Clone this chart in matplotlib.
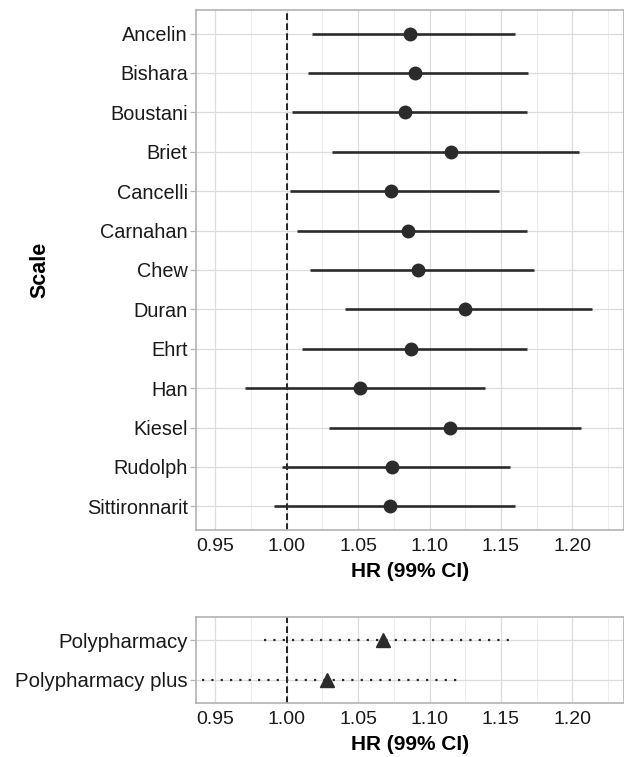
import matplotlib
matplotlib.use("Agg")
import matplotlib.pyplot as plt
from matplotlib.ticker import MultipleLocator

plt.rcParams['font.family'] = ['Liberation Sans', 'DejaVu Sans']

# data
scales = ['Ancelin', 'Bishara', 'Boustani', 'Briet', 'Cancelli', 'Carnahan',
          'Chew', 'Duran', 'Ehrt', 'Han', 'Kiesel', 'Rudolph', 'Sittironnarit']
hr = [1.086, 1.090, 1.083, 1.115, 1.073, 1.085, 1.092, 1.1245, 1.087,
      1.0516, 1.1144, 1.0735, 1.072]
lo = [1.018, 1.015, 1.0035, 1.0315, 1.0023, 1.0072, 1.016, 1.041, 1.011,
      0.971, 1.0294, 0.9965, 0.991]
hi = [1.160, 1.169, 1.1685, 1.205, 1.1487, 1.168, 1.173, 1.214, 1.168,
      1.139, 1.206, 1.156, 1.160]

poly = ['Polypharmacy', 'Polypharmacy plus']
poly_hr = [1.0672, 1.0282]
poly_lo = [0.9839, 0.9405]
poly_hi = [1.1562, 1.1195]

dark = '#2b2b2b'
xlim = (0.9365, 1.2362)


def style_axis(ax, labels, ysize):
    n = len(labels)
    ax.set_xlim(*xlim)
    ax.set_ylim(n - 1 + 0.6, -0.6)
    ax.set_yticks(range(n))
    ax.set_yticklabels(labels)
    ax.xaxis.set_major_locator(MultipleLocator(0.05))
    ax.xaxis.set_minor_locator(MultipleLocator(0.025))
    ax.xaxis.set_major_formatter(plt.FormatStrFormatter('%.2f'))
    ax.grid(True, which='major', color='#dcdcdc', linewidth=0.9, zorder=0)
    ax.grid(True, which='minor', axis='x', color='#ececec', linewidth=0.7, zorder=0)
    ax.set_axisbelow(True)
    for s in ax.spines.values():
        s.set_color('#b3b3b3')
        s.set_linewidth(1.2)
    ax.tick_params(axis='y', length=4, width=0.9, color='#b3b3b3',
                   labelsize=ysize, labelcolor='#1a1a1a', pad=2)
    ax.tick_params(axis='x', which='both', length=0, labelsize=14,
                   labelcolor='#1a1a1a', pad=6)
    ax.axvline(1.0, color='black', linestyle=(0, (4, 2)), linewidth=1.2, zorder=2)
    ax.set_xlabel('HR (99% CI)', fontsize=15, fontweight='bold', labelpad=5)


fig = plt.figure(figsize=(6.24, 7.57), dpi=100)

ax1 = fig.add_axes([0.3141, 0.2999, 0.686, 0.687])
style_axis(ax1, scales, 14.3)
y1 = list(range(len(scales)))
ax1.hlines(y1, lo, hi, color=dark, linewidth=1.9, zorder=3)
ax1.plot(hr, y1, 'o', color=dark, markersize=9, zorder=4)
ax1.set_ylabel('Scale', fontsize=15.5, fontweight='bold', labelpad=26)

ax2 = fig.add_axes([0.3141, 0.0713, 0.686, 0.1136])
style_axis(ax2, poly, 14.7)
y2 = list(range(len(poly)))
ax2.hlines(y2, poly_lo, poly_hi, color=dark, linewidth=1.6,
           linestyles=(0, (1, 3.2)), zorder=3)
ax2.plot(poly_hr, y2, '^', color=dark, markersize=10, zorder=4)

fig.savefig('out.png', dpi=100)
